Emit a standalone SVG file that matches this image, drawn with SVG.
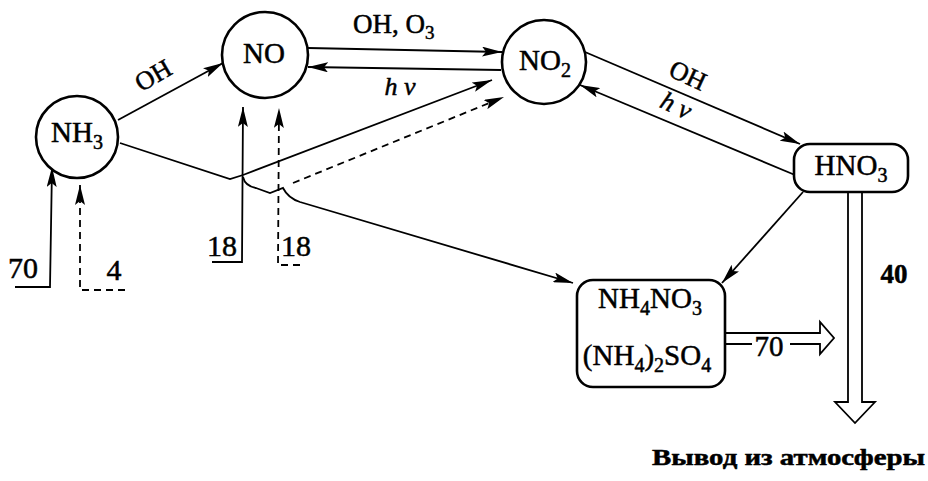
<svg xmlns="http://www.w3.org/2000/svg" width="928" height="481" viewBox="0 0 928 481">
<defs>
<marker id="ah" viewBox="0 0 20 10" refX="20" refY="5" markerWidth="20" markerHeight="10" markerUnits="userSpaceOnUse" orient="auto">
<path d="M0,0 L20,5 L0,10 L4,5 Z" fill="#000"/>
</marker>
</defs>
<style>
.n{fill:#fff;stroke:#000;stroke-width:2.6}
.t{font-family:"Liberation Serif","Times New Roman",serif;fill:#000;stroke:#000;stroke-width:0.5}
.c{fill:none;stroke:#000;stroke-width:1.8}
.d{fill:none;stroke:#000;stroke-width:1.8;stroke-dasharray:7,5}
.h{fill:none;stroke:#000;stroke-width:1.8}
</style>
<rect width="928" height="481" fill="#fff"/>
<g id="connectors">
<line class="c" x1="118" y1="120" x2="223" y2="63" marker-end="url(#ah)"/>
<line class="c" x1="308" y1="48" x2="502" y2="52" marker-end="url(#ah)"/>
<line class="c" x1="501" y1="70" x2="308" y2="67" marker-end="url(#ah)"/>
<line class="c" x1="585" y1="52" x2="800" y2="144" marker-end="url(#ah)"/>
<line class="c" x1="795" y1="175" x2="580" y2="85" marker-end="url(#ah)"/>
<line class="c" x1="803" y1="192" x2="722" y2="283" marker-end="url(#ah)"/>
<path class="c" d="M120,143 L230,179 L243,175"/>
<line class="c" x1="243" y1="175" x2="492" y2="80" marker-end="url(#ah)"/>
<path class="c" d="M243,177 Q245,186 256,188 L270,193 L283,188 Q288,198 300,202 L573,283" marker-end="url(#ah)"/>
<line class="d" x1="293" y1="183" x2="504" y2="97" marker-end="url(#ah)"/>
<polyline class="c" points="212,262 242,262 243,107" marker-end="url(#ah)"/>
<polyline class="d" points="300,265 278,265 279,108" marker-end="url(#ah)"/>
<polyline class="c" points="15,287 50,287 52,167" marker-end="url(#ah)"/>
<polyline class="d" points="125,290 80,290 80,185" marker-end="url(#ah)"/>
<path class="h" d="M725,333 L820,333 L820,322 L834,338 L820,354 L820,344 L790,344 M752,344 L725,344"/>
<path class="h" d="M848,192 L848,402 L835,402 L855,423 L875,402 L862,402 L862,192"/>
</g>
<g id="nh3"><circle class="n" cx="77" cy="137" r="41"/><text class="t" x="77" y="142" font-size="29" text-anchor="middle">NH<tspan font-size="20" dy="7">3</tspan></text></g>
<g id="no"><circle class="n" cx="265" cy="55" r="43"/><text class="t" x="264" y="63" font-size="29" text-anchor="middle">NO</text></g>
<g id="no2"><circle class="n" cx="544" cy="62" r="42"/><text class="t" x="545" y="70" font-size="29" text-anchor="middle">NO<tspan font-size="20" dy="7">2</tspan></text></g>
<g id="hno3"><rect class="n" x="794" y="144" width="114" height="48" rx="16"/><text class="t" x="851" y="175" font-size="29" text-anchor="middle">HNO<tspan font-size="20" dy="7">3</tspan></text></g>
<g id="salts"><rect class="n" x="577" y="280" width="148" height="107" rx="16"/>
<text class="t" x="650" y="308" font-size="29" text-anchor="middle">NH<tspan font-size="20" dy="7">4</tspan><tspan dy="-7">NO</tspan><tspan font-size="20" dy="7">3</tspan></text>
<text class="t" x="647" y="365" font-size="29" text-anchor="middle">(NH<tspan font-size="20" dy="7">4</tspan><tspan dy="-7">)</tspan><tspan font-size="20" dy="7">2</tspan><tspan dy="-7">SO</tspan><tspan font-size="20" dy="7">4</tspan></text></g>
<g id="labels">
<text class="t" x="153" y="84" font-size="26" text-anchor="middle" transform="rotate(-30 153 75)">OH</text>
<text class="t" x="353" y="33" font-size="27">OH, O<tspan font-size="19" dy="6">3</tspan></text>
<text class="t" x="400" y="95" font-size="26" font-style="italic" text-anchor="middle">h ν</text>
<text class="t" x="688" y="84" font-size="26" text-anchor="middle" transform="rotate(25 688 75)">OH</text>
<text class="t" x="676" y="114" font-size="26" font-style="italic" text-anchor="middle" transform="rotate(25 676 106)">h ν</text>
<text class="t" x="23" y="278" font-size="30" text-anchor="middle">70</text>
<text class="t" x="114" y="280" font-size="30" text-anchor="middle">4</text>
<text class="t" x="222" y="256" font-size="30" text-anchor="middle">18</text>
<text class="t" x="296" y="256" font-size="30" text-anchor="middle">18</text>
<text class="t" x="769" y="356" font-size="29" text-anchor="middle">70</text>
<text class="t" x="894" y="283" font-size="27" font-weight="bold" text-anchor="middle">40</text>
<text class="t" x="652" y="465" font-size="23" font-weight="bold" textLength="273" lengthAdjust="spacingAndGlyphs">Вывод из атмосферы</text>
</g>
</svg>
